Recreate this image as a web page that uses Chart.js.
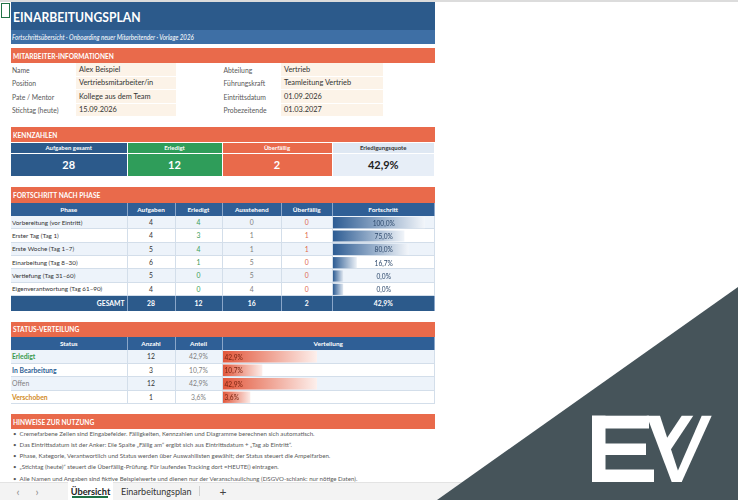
<!DOCTYPE html>
<html lang="de">
<head>
<meta charset="utf-8">
<title>Einarbeitungsplan</title>
<script src="https://cdn.jsdelivr.net/npm/chart.js@4.4.1/dist/chart.umd.min.js"></script>
<style>
  html, body { margin: 0; padding: 0; }
  body { width: 738px; height: 500px; overflow: hidden; background: #fff; position: relative;
         font-family: "Lato", "Noto Sans", sans-serif; color: #333; }
  .c { position: absolute; box-sizing: border-box; display: flex; align-items: center;
       white-space: nowrap; overflow: hidden; }
  .sq { display: inline-block; transform-origin: left center; }
  canvas { position: absolute; }
</style>
</head>
<body>
<canvas id="progressBars" width="102" height="80" style="left:333px;top:216px;width:102px;height:80px;z-index:2"></canvas>
<canvas id="statusBars" width="212" height="54" style="left:223px;top:350px;width:212px;height:54px;z-index:2"></canvas>
<svg width="738" height="500" style="position:absolute;left:0;top:0;z-index:10">
  <polygon points="738,287 738,500 437,500" fill="#46545a"/>
  <g fill="#fff">
    <rect x="592" y="415.7" width="57" height="12.8"/>
    <rect x="592" y="415.7" width="13.5" height="66.3"/>
    <rect x="605" y="443.5" width="41" height="11.5"/>
    <rect x="592" y="469.5" width="62" height="12.5"/>
    <polygon points="646.7,415.7 660,415.7 681.7,482 671.7,482"/>
    <polygon points="681.7,415.7 693.3,415.7 666.5,456 661,447"/>
    <polygon points="701.7,415.7 711.7,415.7 681.7,482 673,482"/>
  </g>
</svg>
<script>
// ---- Daten ----
const infoLabelsLeft = ['Name', 'Position', 'Pate / Mentor', 'Stichtag (heute)'];
const infoValuesLeft = ['Alex Beispiel', 'Vertriebsmitarbeiter/in', 'Kollege aus dem Team', '15.09.2026'];
const infoLabelsRight = ['Abteilung', 'Führungskraft', 'Eintrittsdatum', 'Probezeitende'];
const infoValuesRight = ['Vertrieb', 'Teamleitung Vertrieb', '01.09.2026', '01.03.2027'];

const kpiLabels = ['Aufgaben gesamt', 'Erledigt', 'Überfällig', 'Erledigungsquote'];
const kpiValues = ['28', '12', '2', '42,9%'];

const phaseHeaders = ['Phase', 'Aufgaben', 'Erledigt', 'Ausstehend', 'Überfällig', 'Fortschritt'];
const phases = ['Vorbereitung (vor Eintritt)', 'Erster Tag (Tag 1)', 'Erste Woche (Tag 1–7)',
                'Einarbeitung (Tag 8–30)', 'Vertiefung (Tag 31–60)', 'Eigenverantwortung (Tag 61–90)'];
const aufgaben = [4, 4, 5, 6, 5, 4];
const erledigt = [4, 3, 4, 1, 0, 0];
const ausstehend = [0, 1, 1, 5, 5, 4];
const ueberfaellig = [0, 1, 1, 0, 0, 0];
const fortschritt = [100, 75, 80, 16.7, 0, 0];
const gesamt = ['28', '12', '16', '2', '42,9%'];

const statusHeaders = ['Status', 'Anzahl', 'Anteil', 'Verteilung'];
const statusLabels = ['Erledigt', 'In Bearbeitung', 'Offen', 'Verschoben'];
const statusCounts = [12, 3, 12, 1];
const statusShares = [42.9, 10.7, 42.9, 3.6];

const hinweise = [
  'Cremefarbene Zellen sind Eingabefelder. Fälligkeiten, Kennzahlen und Diagramme berechnen sich automatisch.',
  'Das Eintrittsdatum ist der Anker: Die Spalte „Fällig am“ ergibt sich aus Eintrittsdatum + „Tag ab Eintritt“.',
  'Phase, Kategorie, Verantwortlich und Status werden über Auswahllisten gewählt; der Status steuert die Ampelfarben.',
  '„Stichtag (heute)“ steuert die Überfällig-Prüfung. Für laufendes Tracking dort =HEUTE() eintragen.',
  'Alle Namen und Angaben sind fiktive Beispielwerte und dienen nur der Veranschaulichung (DSGVO-schlank: nur nötige Daten).'
];

// ---- Tabellenraster ----
const X = [11, 76, 127.5, 175.5, 222.5, 282, 332.5, 383, 435];
const BLUE = '#2c5a8b', ORANGE = '#e96a4b', GREEN = '#2f9d5a';
const pct = v => v.toFixed(1).replace('.', ',') + '%';

function cell(x1, x2, y1, y2, text, css, squeeze) {
  const d = document.createElement('div');
  d.className = 'c';
  d.style.left = x1 + 'px'; d.style.top = y1 + 'px';
  d.style.width = (x2 - x1) + 'px'; d.style.height = (y2 - y1) + 'px';
  Object.assign(d.style, css || {});
  if (text !== undefined) {
    if (squeeze) {
      const s = document.createElement('span');
      s.className = 'sq';
      s.style.transform = 'scaleX(' + squeeze + ')';
      s.textContent = text;
      d.appendChild(s);
    } else {
      d.textContent = text;
    }
  }
  document.body.appendChild(d);
  return d;
}
const section = (y1, y2, t) => cell(X[0], X[8], y1, y2, t,
  { background: ORANGE, color: '#fff', fontWeight: 700, fontSize: '6.6px', paddingLeft: '2px' });

// Kopf
cell(0, 738, 0, 2, '', { background: '#dcdcdc' });
cell(1, 10, 3, 18, '', { border: '1px solid #217346' });
cell(X[0], X[8], 2, 30, 'EINARBEITUNGSPLAN',
  { background: BLUE, color: '#fff', fontWeight: 700, fontSize: '13.5px', paddingLeft: '2px', paddingTop: '2px' }, 0.9);
cell(X[0], X[8], 30, 43.5, 'Fortschrittsübersicht · Onboarding neuer Mitarbeitender · Vorlage 2026',
  { background: '#3e6fa5', color: '#fff', fontStyle: 'italic', fontSize: '7px', paddingLeft: '1px' }, 0.88);

// Mitarbeiter-Informationen
section(48, 63, 'MITARBEITER-INFORMATIONEN');
const infoY = [63, 76.5, 90, 103.5, 117];
infoLabelsLeft.forEach((t, i) => {
  cell(X[0], X[1], infoY[i], infoY[i + 1], t, { fontSize: '6.8px', color: '#595959', paddingLeft: '1px' });
  cell(X[1], X[3], infoY[i], infoY[i + 1], infoValuesLeft[i],
    { background: '#fcf3e8', borderBottom: '1px solid #fff', fontSize: '7.4px', color: '#333', paddingLeft: '3px' });
  cell(X[4], X[5], infoY[i], infoY[i + 1], infoLabelsRight[i], { fontSize: '6.8px', color: '#595959', paddingLeft: '1px' });
  cell(X[5] - 1, X[7], infoY[i], infoY[i + 1], infoValuesRight[i],
    { background: '#fcf3e8', borderBottom: '1px solid #fff', fontSize: '7.4px', color: '#333', paddingLeft: '3px' });
});

// Kennzahlen
section(127, 142, 'KENNZAHLEN');
const kpiCols = [[X[0], X[2]], [X[2], X[4]], [X[4], X[6]], [X[6], X[8]]];
const kpiBg = [BLUE, GREEN, ORANGE, '#dfe8f3'];
const kpiValBg = [BLUE, GREEN, ORANGE, '#e7eef7'];
kpiLabels.forEach((t, i) => {
  const dark = i === 3;
  cell(kpiCols[i][0], kpiCols[i][1], 143, 152.5, t,
    { background: kpiBg[i], color: dark ? '#333' : '#fff', fontWeight: 700, fontSize: '6px',
      justifyContent: 'center', borderRight: '1px solid #fff' });
  cell(kpiCols[i][0], kpiCols[i][1], 153.5, 176, kpiValues[i],
    { background: kpiValBg[i], color: dark ? '#222' : '#fff', fontWeight: 700, fontSize: '11px',
      justifyContent: 'center', borderRight: '1px solid #fff' });
});

// Fortschritt nach Phase
section(187, 203, 'FORTSCHRITT NACH PHASE');
const pCols = [[X[0], X[2]], [X[2], X[3]], [X[3], X[4]], [X[4], X[5]], [X[5], X[6]], [X[6], X[8]]];
phaseHeaders.forEach((t, j) => cell(pCols[j][0], pCols[j][1], 203, 216, t,
  { background: '#2f5f96', color: '#fff', fontWeight: 700, fontSize: '6.4px', justifyContent: 'center',
    borderRight: '1px solid #8aa6c9' }));
const rowH = 80 / 6;
phases.forEach((p, i) => {
  const y1 = 216 + i * rowH, y2 = y1 + rowH;
  const bg = i % 2 === 0 ? '#edf3fa' : '#fff';
  const base = { background: bg, borderRight: '1px solid #d3deea', borderBottom: '1px solid #d3deea',
                 fontSize: '6.8px', justifyContent: 'center' };
  cell(pCols[0][0], pCols[0][1], y1, y2, p, Object.assign({}, base, { justifyContent: 'flex-start', paddingLeft: '1px', fontSize: '6.3px', color: '#333' }));
  cell(pCols[1][0], pCols[1][1], y1, y2, String(aufgaben[i]), Object.assign({}, base, { color: '#333' }));
  cell(pCols[2][0], pCols[2][1], y1, y2, String(erledigt[i]), Object.assign({}, base, { color: '#3a9b58' }));
  cell(pCols[3][0], pCols[3][1], y1, y2, String(ausstehend[i]), Object.assign({}, base, { color: '#7f7f7f' }));
  cell(pCols[4][0], pCols[4][1], y1, y2, String(ueberfaellig[i]), Object.assign({}, base, { color: '#e0674a' }));
  cell(pCols[5][0], pCols[5][1], y1, y2, '', Object.assign({}, base));
  cell(pCols[5][0], pCols[5][1], y1, y2, pct(fortschritt[i]),
    { fontSize: '6.6px', justifyContent: 'center', color: '#2e4a6d', zIndex: 3, background: 'transparent' });
});
cell(pCols[0][0], pCols[0][1], 296, 310.5, 'GESAMT',
  { background: BLUE, color: '#fff', fontWeight: 700, fontSize: '6.8px', justifyContent: 'flex-end',
    paddingRight: '2px', borderRight: '1px solid #8aa6c9' });
gesamt.forEach((t, j) => cell(pCols[j + 1][0], pCols[j + 1][1], 296, 310.5, t,
  { background: BLUE, color: '#fff', fontWeight: 700, fontSize: '6.8px', justifyContent: 'center',
    borderRight: '1px solid #8aa6c9' }));

// Status-Verteilung
section(321.5, 337, 'STATUS-VERTEILUNG');
const sCols = [[X[0], X[2]], [X[2], X[3]], [X[3], X[4]], [X[4], X[8]]];
statusHeaders.forEach((t, j) => cell(sCols[j][0], sCols[j][1], 337, 350, t,
  { background: '#2f5f96', color: '#fff', fontWeight: 700, fontSize: '6.4px', justifyContent: 'center',
    borderRight: '1px solid #8aa6c9' }));
const statusColors = ['#3c9a4f', '#2f5f96', '#7f7f7f', '#d28b1f'];
statusLabels.forEach((s, i) => {
  const y1 = 350 + i * 13.5, y2 = y1 + 13.5;
  const bg = i % 2 === 0 ? '#edf3fa' : '#fff';
  const base = { background: bg, borderRight: '1px solid #d3deea', borderBottom: '1px solid #d3deea',
                 fontSize: '6.8px', justifyContent: 'center' };
  cell(sCols[0][0], sCols[0][1], y1, y2, s, Object.assign({}, base,
    { justifyContent: 'flex-start', paddingLeft: '1px', color: statusColors[i], fontWeight: i === 2 ? 400 : 700 }));
  cell(sCols[1][0], sCols[1][1], y1, y2, String(statusCounts[i]), Object.assign({}, base, { color: '#333' }));
  cell(sCols[2][0], sCols[2][1], y1, y2, pct(statusShares[i]), Object.assign({}, base, { color: '#7f7f7f' }));
  cell(sCols[3][0], sCols[3][1], y1, y2, '', Object.assign({}, base));
  cell(sCols[3][0], sCols[3][1], y1, y2, pct(statusShares[i]),
    { fontSize: '6.6px', color: '#7a2410', paddingLeft: '2px', zIndex: 3, background: 'transparent' });
});

// Hinweise
section(414, 429, 'HINWEISE ZUR NUTZUNG');
hinweise.forEach((t, i) => {
  const y = 427.5 + i * 11.3;
  cell(X[0], 430, y, y + 11, '•\u2002' + t, { fontSize: '6.1px', color: '#595959', paddingLeft: '2px' });
});

// Blattregister
cell(0, 738, 482, 500, '', { background: '#f3f3f3', borderTop: '1px solid #e3e3e3' });
cell(12, 24, 484, 499, '‹', { color: '#8a8a8a', fontSize: '11px', justifyContent: 'center' });
cell(31, 43, 484, 499, '›', { color: '#8a8a8a', fontSize: '11px', justifyContent: 'center' });
cell(68, 113, 482, 500, 'Übersicht', { background: '#fff', color: '#222', fontWeight: 700, fontSize: '9.2px', justifyContent: 'center' });
cell(72, 108, 496, 498, '', { background: '#1e7145' });
cell(121, 196, 483, 499, 'Einarbeitungsplan', { color: '#333', fontSize: '9px', justifyContent: 'flex-start', overflow: 'visible' });
cell(199, 200, 486, 496, '', { background: '#d0d0d0' });
cell(214, 232, 483, 499, '+', { color: '#444', fontSize: '12px', justifyContent: 'center' });

// ---- Datenbalken (Chart.js) ----
// Wie Excel: 0 % -> 10 % der Zellbreite, 100 % -> 90 %
const MIN = -12.5, MAX = 112.5;
function dataBars(id, labels, values, from, to) {
  const canvas = document.getElementById(id);
  new Chart(canvas.getContext('2d'), {
    type: 'bar',
    data: {
      labels: labels,
      datasets: [{
        data: values,
        base: MIN,
        borderWidth: 0,
        barPercentage: 0.84,
        categoryPercentage: 1,
        backgroundColor: (ctx) => {
          const chart = ctx.chart;
          if (!chart.chartArea || ctx.raw === undefined) return from;
          const x0 = chart.scales.x.getPixelForValue(MIN);
          const x1 = chart.scales.x.getPixelForValue(ctx.raw);
          const g = chart.ctx.createLinearGradient(x0, 0, x1 + 1, 0);
          g.addColorStop(0, from);
          g.addColorStop(1, to);
          return g;
        }
      }]
    },
    options: {
      indexAxis: 'y',
      responsive: false,
      animation: false,
      events: [],
      layout: { padding: 0 },
      plugins: { legend: { display: false }, tooltip: { enabled: false } },
      scales: {
        x: { display: false, min: MIN, max: MAX },
        y: { display: false }
      }
    }
  });
}
dataBars('progressBars', phases, fortschritt, '#2d5c93', '#f4f7fb');
dataBars('statusBars', statusLabels, statusShares, '#e2573b', '#fdf1ee');
</script>
</body>
</html>
